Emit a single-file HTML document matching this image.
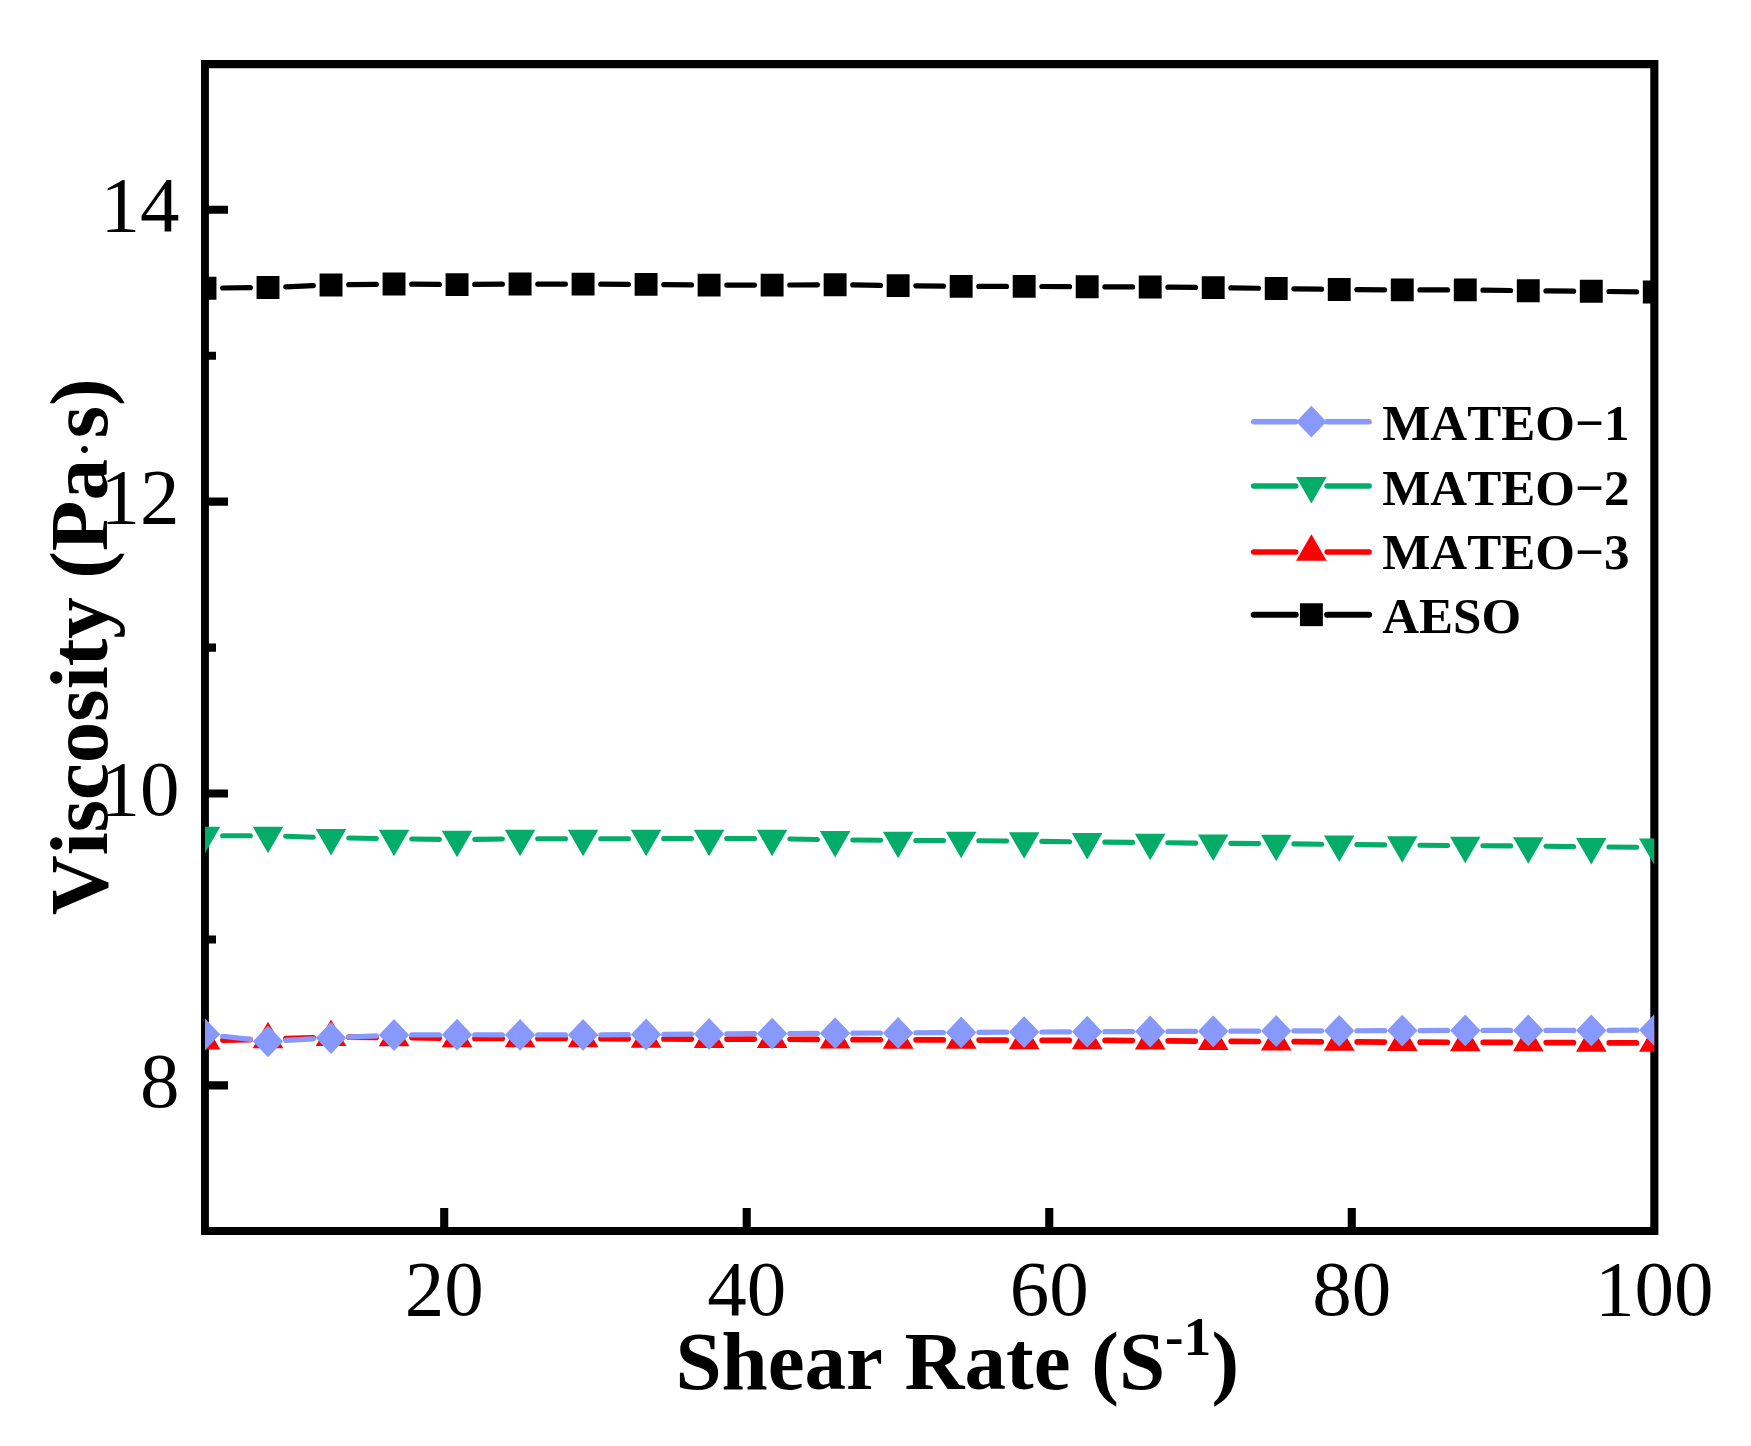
<!DOCTYPE html>
<html lang="en"><head><meta charset="utf-8"><title>Viscosity vs Shear Rate</title>
<style>html,body{margin:0;padding:0;background:#fff}body{width:1751px;height:1446px;overflow:hidden}svg{display:block}text{font-family:"Liberation Serif",serif;fill:#000;font-kerning:none;font-variant-ligatures:none}.b{font-weight:bold}</style></head><body>
<svg width="1751" height="1446" viewBox="0 0 1751 1446">
<rect width="1751" height="1446" fill="#fff"/>
<defs><clipPath id="plot"><rect x="205" y="64.2" width="1449.3" height="1166.7"/></clipPath></defs>
<path fill="#000" fill-rule="evenodd" d="M201 60H1658.4V1234.9H201zM208.9 68.3V1226.9H1650.3V68.3z"/>
<path d="M205 1085.38h23M205 793.52h23M205 501.66h23M205 209.8h23M205 939.45h11M205 647.59h11M205 355.73h11M444.22 1230.9v-23M746.74 1230.9v-23M1049.26 1230.9v-23M1351.78 1230.9v-23" fill="none" stroke="#000" stroke-width="8.1"/>
<g font-size="79">
<text x="179.6" y="1106.88" text-anchor="end">8</text>
<text x="179.6" y="815.02" text-anchor="end">10</text>
<text x="179.6" y="523.16" text-anchor="end">12</text>
<text x="179.6" y="231.3" text-anchor="end">14</text>
<text x="444.22" y="1314.7" text-anchor="middle">20</text>
<text x="746.74" y="1314.7" text-anchor="middle">40</text>
<text x="1049.26" y="1314.7" text-anchor="middle">60</text>
<text x="1351.78" y="1314.7" text-anchor="middle">80</text>
<text x="1654.3" y="1314.7" text-anchor="middle">100</text>
</g>
<text class="b" font-size="83" y="1388.9"><tspan x="675.4">Shear </tspan><tspan x="904.6">Rate (S</tspan><tspan font-size="55.6" dy="-34.4">-1</tspan><tspan dy="34.4">)</tspan></text>
<text class="b" font-size="83" transform="translate(107.1 648) rotate(-90)" y="0"><tspan x="-267.3">Viscosity </tspan><tspan x="69.2">(Pa</tspan><tspan x="188.5" dy="-2.7" font-weight="normal" font-size="60">·</tspan><tspan x="209.7" dy="2.7">s)</tspan></text>
<g clip-path="url(#plot)">
<path d="M222.7 288L250.31 287.7M285.7 286.8L313.34 285.7M348.72 284.72L376.34 284.28M411.74 284.17L439.35 284.43M474.75 284.43L502.37 284.17M537.77 284.03L565.38 284.07M600.78 284.18L628.39 284.32M663.79 284.6L691.41 284.9M726.8 285.1L754.42 285.1M789.82 284.99L817.43 284.81M852.83 284.95L880.45 285.35M915.84 285.82L943.46 286.18M978.86 286.4L1006.47 286.4M1041.87 286.48L1069.48 286.62M1104.88 286.78L1132.5 286.92M1167.89 287.17L1195.51 287.43M1230.91 287.85L1258.52 288.25M1293.92 288.78L1321.54 289.22M1356.93 289.61L1384.55 289.79M1419.95 289.9L1447.56 289.9M1482.96 290.12L1510.58 290.48M1545.97 290.87L1573.59 291.13M1608.99 291.5L1636.6 291.8" fill="none" stroke="#000000" stroke-width="5.2" stroke-linecap="round"/>
<path d="M193.55 276.75h22.9v22.9h-22.9zM256.56 276.05h22.9v22.9h-22.9zM319.58 273.55h22.9v22.9h-22.9zM382.59 272.55h22.9v22.9h-22.9zM445.6 273.15h22.9v22.9h-22.9zM508.62 272.55h22.9v22.9h-22.9zM571.63 272.65h22.9v22.9h-22.9zM634.64 272.95h22.9v22.9h-22.9zM697.65 273.65h22.9v22.9h-22.9zM760.67 273.65h22.9v22.9h-22.9zM823.68 273.25h22.9v22.9h-22.9zM886.69 274.15h22.9v22.9h-22.9zM949.71 274.95h22.9v22.9h-22.9zM1012.72 274.95h22.9v22.9h-22.9zM1075.73 275.25h22.9v22.9h-22.9zM1138.75 275.55h22.9v22.9h-22.9zM1201.76 276.15h22.9v22.9h-22.9zM1264.77 277.05h22.9v22.9h-22.9zM1327.78 278.05h22.9v22.9h-22.9zM1390.8 278.45h22.9v22.9h-22.9zM1453.81 278.45h22.9v22.9h-22.9zM1516.82 279.25h22.9v22.9h-22.9zM1579.84 279.85h22.9v22.9h-22.9zM1642.85 280.55h22.9v22.9h-22.9z" fill="#000000"/>
<path d="M222.95 1040.23L250.07 1039.67M285.95 1038.67L313.09 1037.73M348.98 1037.21L376.09 1037.39M411.99 1037.76L439.1 1038.14M475 1038.4L502.12 1038.4M538.02 1038.43L565.13 1038.47M601.03 1038.61L628.14 1038.79M664.04 1038.96L691.15 1039.04M727.05 1039.1L754.17 1039.1M790.07 1039.24L817.18 1039.46M853.08 1039.66L880.19 1039.74M916.09 1039.86L943.21 1039.94M979.11 1040.09L1006.22 1040.21M1042.12 1040.3L1069.23 1040.3M1105.13 1040.41L1132.25 1040.59M1168.15 1040.84L1195.26 1041.06M1231.16 1041.31L1258.27 1041.49M1294.17 1041.69L1321.28 1041.81M1357.18 1041.96L1384.3 1042.04M1420.2 1042.16L1447.31 1042.24M1483.21 1042.36L1510.32 1042.44M1546.22 1042.59L1573.34 1042.71M1609.24 1042.86L1636.35 1042.94" fill="none" stroke="#FF0000" stroke-width="5.7" stroke-linecap="round"/>
<path d="M189.7 1049.43L220.3 1049.43L205 1022.93zM252.71 1048.13L283.31 1048.13L268.01 1021.63zM315.73 1045.93L346.33 1045.93L331.03 1019.43zM378.74 1046.33L409.34 1046.33L394.04 1019.83zM441.75 1047.23L472.35 1047.23L457.05 1020.73zM504.77 1047.23L535.37 1047.23L520.07 1020.73zM567.78 1047.33L598.38 1047.33L583.08 1020.83zM630.79 1047.73L661.39 1047.73L646.09 1021.23zM693.8 1047.93L724.4 1047.93L709.1 1021.43zM756.82 1047.93L787.42 1047.93L772.12 1021.43zM819.83 1048.43L850.43 1048.43L835.13 1021.93zM882.84 1048.63L913.44 1048.63L898.14 1022.13zM945.86 1048.83L976.46 1048.83L961.16 1022.33zM1008.87 1049.13L1039.47 1049.13L1024.17 1022.63zM1071.88 1049.13L1102.48 1049.13L1087.18 1022.63zM1134.9 1049.53L1165.5 1049.53L1150.2 1023.03zM1197.91 1050.03L1228.51 1050.03L1213.21 1023.53zM1260.92 1050.43L1291.52 1050.43L1276.22 1023.93zM1323.93 1050.73L1354.53 1050.73L1339.23 1024.23zM1386.95 1050.93L1417.55 1050.93L1402.25 1024.43zM1449.96 1051.13L1480.56 1051.13L1465.26 1024.63zM1512.97 1051.33L1543.57 1051.33L1528.27 1024.83zM1575.99 1051.63L1606.59 1051.63L1591.29 1025.13zM1639 1051.83L1669.6 1051.83L1654.3 1025.33z" fill="#FF0000"/>
<path d="M222.65 835.7L250.36 835.7M285.65 836.29L313.39 837.21M348.67 838.05L376.39 838.45M411.69 838.95L439.4 839.35M474.7 839.35L502.42 838.95M537.72 838.7L565.43 838.7M600.73 838.7L628.44 838.7M663.74 838.64L691.45 838.56M726.75 838.56L754.47 838.64M789.76 839.01L817.48 839.49M852.78 840L880.49 840.3M915.79 840.53L943.51 840.57M978.81 840.77L1006.52 841.03M1041.82 841.4L1069.53 841.7M1104.83 842.1L1132.55 842.4M1167.84 842.8L1195.56 843.1M1230.86 843.41L1258.57 843.59M1293.87 843.9L1321.59 844.2M1356.88 844.6L1384.6 844.9M1419.9 845.24L1447.61 845.46M1482.91 845.71L1510.62 845.89M1545.92 846.25L1573.64 846.65M1608.94 847.04L1636.65 847.26" fill="none" stroke="#03AC69" stroke-width="5.1" stroke-linecap="round"/>
<path d="M189.7 826.87L220.3 826.87L205 853.37zM252.71 826.87L283.31 826.87L268.01 853.37zM315.73 828.97L346.33 828.97L331.03 855.47zM378.74 829.87L409.34 829.87L394.04 856.37zM441.75 830.77L472.35 830.77L457.05 857.27zM504.77 829.87L535.37 829.87L520.07 856.37zM567.78 829.87L598.38 829.87L583.08 856.37zM630.79 829.87L661.39 829.87L646.09 856.37zM693.8 829.67L724.4 829.67L709.1 856.17zM756.82 829.87L787.42 829.87L772.12 856.37zM819.83 830.97L850.43 830.97L835.13 857.47zM882.84 831.67L913.44 831.67L898.14 858.17zM945.86 831.77L976.46 831.77L961.16 858.27zM1008.87 832.37L1039.47 832.37L1024.17 858.87zM1071.88 833.07L1102.48 833.07L1087.18 859.57zM1134.9 833.77L1165.5 833.77L1150.2 860.27zM1197.91 834.47L1228.51 834.47L1213.21 860.97zM1260.92 834.87L1291.52 834.87L1276.22 861.37zM1323.93 835.57L1354.53 835.57L1339.23 862.07zM1386.95 836.27L1417.55 836.27L1402.25 862.77zM1449.96 836.77L1480.56 836.77L1465.26 863.27zM1512.97 837.17L1543.57 837.17L1528.27 863.67zM1575.99 838.07L1606.59 838.07L1591.29 864.57zM1639 838.57L1669.6 838.57L1654.3 865.07z" fill="#03AC69"/>
<path d="M222.59 1036.28L250.42 1039.42M285.69 1040.45L313.35 1038.95M348.71 1037.16L376.36 1035.84M411.74 1034.92L439.35 1034.78M474.75 1034.76L502.37 1034.84M537.77 1034.9L565.38 1034.9M600.78 1034.79L628.39 1034.61M663.79 1034.36L691.4 1034.14M726.8 1033.89L754.42 1033.71M789.82 1033.49L817.43 1033.31M852.83 1033.12L880.44 1032.98M915.84 1032.76L943.46 1032.54M978.86 1032.32L1006.47 1032.18M1041.87 1031.99L1069.48 1031.81M1104.88 1031.64L1132.5 1031.56M1167.9 1031.44L1195.51 1031.36M1230.91 1031.22L1258.52 1031.08M1293.92 1030.94L1321.53 1030.86M1356.93 1030.74L1384.55 1030.66M1419.95 1030.54L1447.56 1030.46M1482.96 1030.4L1510.57 1030.4M1545.97 1030.4L1573.59 1030.4M1608.99 1030.32L1636.6 1030.18" fill="none" stroke="#8899FD" stroke-width="5.2" stroke-linecap="round"/>
<path d="M205 1018.4L220.2 1034.3L205 1050.2L189.8 1034.3zM268.01 1025.5L283.21 1041.4L268.01 1057.3L252.81 1041.4zM331.03 1022.1L346.23 1038L331.03 1053.9L315.83 1038zM394.04 1019.1L409.24 1035L394.04 1050.9L378.84 1035zM457.05 1018.8L472.25 1034.7L457.05 1050.6L441.85 1034.7zM520.07 1019L535.27 1034.9L520.07 1050.8L504.87 1034.9zM583.08 1019L598.28 1034.9L583.08 1050.8L567.88 1034.9zM646.09 1018.6L661.29 1034.5L646.09 1050.4L630.89 1034.5zM709.1 1018.1L724.3 1034L709.1 1049.9L693.9 1034zM772.12 1017.7L787.32 1033.6L772.12 1049.5L756.92 1033.6zM835.13 1017.3L850.33 1033.2L835.13 1049.1L819.93 1033.2zM898.14 1017L913.34 1032.9L898.14 1048.8L882.94 1032.9zM961.16 1016.5L976.36 1032.4L961.16 1048.3L945.96 1032.4zM1024.17 1016.2L1039.37 1032.1L1024.17 1048L1008.97 1032.1zM1087.18 1015.8L1102.38 1031.7L1087.18 1047.6L1071.98 1031.7zM1150.2 1015.6L1165.4 1031.5L1150.2 1047.4L1135 1031.5zM1213.21 1015.4L1228.41 1031.3L1213.21 1047.2L1198.01 1031.3zM1276.22 1015.1L1291.42 1031L1276.22 1046.9L1261.02 1031zM1339.23 1014.9L1354.43 1030.8L1339.23 1046.7L1324.03 1030.8zM1402.25 1014.7L1417.45 1030.6L1402.25 1046.5L1387.05 1030.6zM1465.26 1014.5L1480.46 1030.4L1465.26 1046.3L1450.06 1030.4zM1528.27 1014.5L1543.47 1030.4L1528.27 1046.3L1513.07 1030.4zM1591.29 1014.5L1606.49 1030.4L1591.29 1046.3L1576.09 1030.4zM1654.3 1014.2L1669.5 1030.1L1654.3 1046L1639.1 1030.1z" fill="#8899FD"/>
</g>
<g font-size="51" class="b">
<path d="M1253.7 421.7H1295.7M1327.1 421.7H1369.1" fill="none" stroke="#8899FD" stroke-width="5.5" stroke-linecap="round"/>
<path d="M1311.4 405.8L1326.6 421.7L1311.4 437.6L1296.2 421.7z" fill="#8899FD"/>
<text x="1382.2" y="439.7">MATEO−1</text>
<path d="M1253.7 485.9H1295.7M1327.1 485.9H1369.1" fill="none" stroke="#03AC69" stroke-width="5.5" stroke-linecap="round"/>
<path d="M1296.1 477.07L1326.7 477.07L1311.4 503.57z" fill="#03AC69"/>
<text x="1382.2" y="504.6">MATEO−2</text>
<path d="M1253.7 552H1295.7M1327.1 552H1369.1" fill="none" stroke="#FF0000" stroke-width="5.5" stroke-linecap="round"/>
<path d="M1296.1 560.83L1326.7 560.83L1311.4 534.33z" fill="#FF0000"/>
<text x="1382.2" y="568.9">MATEO−3</text>
<path d="M1253.7 614.7H1295.7M1327.1 614.7H1369.1" fill="none" stroke="#000000" stroke-width="6" stroke-linecap="round"/>
<path d="M1299.95 603.25h22.9v22.9h-22.9z" fill="#000000"/>
<text x="1382.2" y="633.2">AESO</text>
</g>
</svg></body></html>
